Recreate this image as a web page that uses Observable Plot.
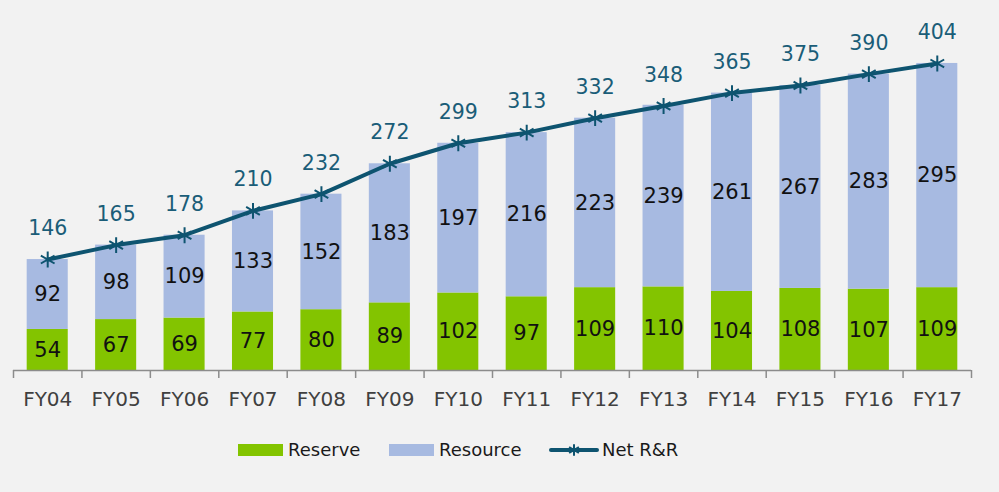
<!DOCTYPE html>
<html>
<head>
<meta charset="utf-8">
<script src="https://cdn.jsdelivr.net/npm/d3@7"></script>
<script src="https://cdn.jsdelivr.net/npm/@observablehq/plot@0.6"></script>
<style>
  html, body { margin: 0; padding: 0; background: #f2f2f2; }
  body { width: 999px; height: 492px; overflow: hidden; font-family: "DejaVu Sans", Verdana, sans-serif; }
  #legend { position: relative; height: 67px; }
  .item { position: absolute; top: 14px; display: flex; align-items: center; font-size: 18px; color: #1a1a1a; }
  .sw { width: 45px; height: 12px; margin-right: 5px; }
</style>
</head>
<body>
<div id="chart"></div>
<div id="legend"></div>
<script>
const years = ["FY04","FY05","FY06","FY07","FY08","FY09","FY10","FY11","FY12","FY13","FY14","FY15","FY16","FY17"];
const reserve = [54, 67, 69, 77, 80, 89, 102, 97, 109, 110, 104, 108, 107, 109];
const resource = [92, 98, 109, 133, 152, 183, 197, 216, 223, 239, 261, 267, 283, 295];
const netRR = [146, 165, 178, 210, 232, 272, 299, 313, 332, 348, 365, 375, 390, 404];
const seriesNames = ["Reserve", "Resource", "Net R&R"];
const colors = { Reserve: "#83c400", Resource: "#a7bae1", line: "#0e5470", label: "#1a5d78" };

const rows = [];
years.forEach((y, i) => {
  rows.push({ year: y, series: "Reserve", value: reserve[i] });
  rows.push({ year: y, series: "Resource", value: resource[i] });
});
const net = years.map((y, i) => ({ year: y, value: netRR[i] }));

const W = 999, H = 425, ML = 13, MR = 28, MT = 28, MB = 55;
const yMax = 450;
const step = (W - ML - MR) / years.length;
const pxPerUnit = (H - MT - MB) / yMax;
const tickLen = 8 / pxPerUnit;

const chart = Plot.plot({
  width: W, height: H,
  marginLeft: ML, marginRight: MR, marginTop: MT, marginBottom: MB,
  style: { background: "transparent", fontFamily: "DejaVu Sans, Verdana, sans-serif" },
  x: { domain: years, paddingInner: 0.4, paddingOuter: 0.2, round: false },
  y: { domain: [0, yMax], axis: null },
  color: { domain: ["Reserve", "Resource"], range: [colors.Reserve, colors.Resource] },
  marks: [
    Plot.barY(rows, { x: "year", y: "value", fill: "series" }),
    Plot.text(rows, Plot.stackY({ x: "year", y: "value", z: "series", text: d => String(d.value), fill: "#111", fontSize: 21 })),
    Plot.ruleY([0], { stroke: "#8c8c8c", strokeWidth: 1.5 }),
    Plot.ruleX(years, { x: d => d, y1: 0, y2: -tickLen, dx: -step / 2, stroke: "#8c8c8c", strokeWidth: 1.5 }),
    Plot.ruleX([years[years.length - 1]], { x: d => d, y1: 0, y2: -tickLen, dx: step / 2, stroke: "#8c8c8c", strokeWidth: 1.5 }),
    Plot.axisX({ tickSize: 0, tickPadding: 21, fontSize: 20, color: "#404040", label: null }),
    Plot.line(net, { x: "year", y: "value", stroke: colors.line, strokeWidth: 4 }),
    Plot.dot(net, { x: "year", y: "value", symbol: "asterisk", r: 7.5, stroke: colors.line, strokeWidth: 2 }),
    Plot.text(net, { x: "year", y: "value", text: d => String(d.value), dy: -31, fill: colors.label, fontSize: 20.5 })
  ]
});
document.getElementById("chart").appendChild(chart);

const legend = document.getElementById("legend");
const items = [
  { name: seriesNames[0], left: 238, type: "rect", color: colors.Reserve },
  { name: seriesNames[1], left: 389, type: "rect", color: colors.Resource },
  { name: seriesNames[2], left: 549, type: "line", color: colors.line }
];
items.forEach(it => {
  const div = document.createElement("div");
  div.className = "item";
  div.style.left = it.left + "px";
  if (it.type === "rect") {
    const sw = document.createElement("span");
    sw.className = "sw";
    sw.style.background = it.color;
    div.appendChild(sw);
  } else {
    const ns = "http://www.w3.org/2000/svg";
    const s = document.createElementNS(ns, "svg");
    s.setAttribute("width", 50); s.setAttribute("height", 16);
    s.style.marginRight = "3px";
    const l = document.createElementNS(ns, "line");
    l.setAttribute("x1", 2); l.setAttribute("x2", 48); l.setAttribute("y1", 8); l.setAttribute("y2", 8);
    l.setAttribute("stroke", it.color); l.setAttribute("stroke-width", 4); l.setAttribute("stroke-linecap", "round");
    s.appendChild(l);
    const p = document.createElementNS(ns, "path");
    p.setAttribute("d", d3.symbol(d3.symbolAsterisk, 90)());
    p.setAttribute("transform", "translate(25,8)");
    p.setAttribute("stroke", it.color); p.setAttribute("stroke-width", 2); p.setAttribute("fill", "none");
    s.appendChild(p);
    div.appendChild(s);
  }
  const t = document.createElement("span");
  t.textContent = it.name;
  div.appendChild(t);
  legend.appendChild(div);
});
</script>
</body>
</html>
